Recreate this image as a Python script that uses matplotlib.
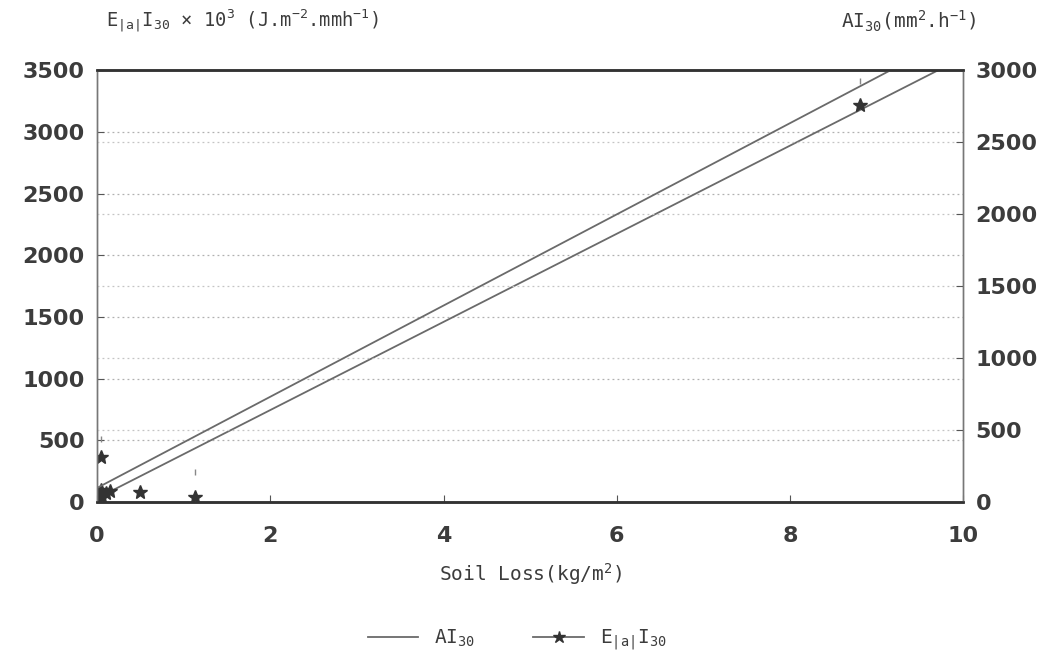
import numpy as np
import matplotlib.pyplot as plt
import matplotlib.lines as mlines

# Soil loss (kg/m2) vs erosivity indices
soil_loss_e = [0.01, 0.02, 0.04, 0.06, 0.10, 0.15, 0.04, 0.50, 1.13, 8.81]
e_i30 = [20, 60, 100, 40, 70, 90, 365, 80, 40, 3216]

soil_loss_ai = [0.04, 1.13, 8.81]
ai30 = [438, 209, 2923]

# fitted straight lines (end points)
e_fit_x = [0.0, 9.71]
e_fit_y = [30, 3500]
ai_fit_x = [0.0, 9.16]
ai_fit_y = [97, 3000]

left_ticks = [0, 500, 1000, 1500, 2000, 2500, 3000, 3500]
right_ticks = [0, 500, 1000, 1500, 2000, 2500, 3000]
x_ticks = [0, 2, 4, 6, 8, 10]

line_col = '#6a6a6a'
text_col = '#3c3c3c'

plt.rcParams['mathtext.fontset'] = 'custom'
plt.rcParams['mathtext.rm'] = 'DejaVu Sans Mono'
plt.rcParams['mathtext.it'] = 'DejaVu Sans Mono'

fig = plt.figure(figsize=(10.55, 6.63), dpi=100)
ax = fig.add_axes([0.092, 0.243, 0.821, 0.651])
ax2 = ax.twinx()

ax.set_xlim(0, 10)
ax.set_ylim(0, 3500)
ax2.set_ylim(0, 3000)

# dotted grid for both scales
for t in left_ticks[1:-1]:
    ax.axhline(t, color='#b0b0b0', lw=0.9, ls=(0, (1.5, 2.5)), zorder=0)
for t in right_ticks[1:-1]:
    ax2.axhline(t, color='#c4c4c4', lw=0.9, ls=(0, (1.5, 2.5)), zorder=0)

# AI30 on right axis, E on left axis
ax2.plot(ai_fit_x, ai_fit_y, color=line_col, lw=1.3)
ax2.plot(soil_loss_ai, ai30, ls='none', marker='|', ms=5, color='#888888')
ax.plot(e_fit_x, e_fit_y, color=line_col, lw=1.3)
ax.plot(soil_loss_e, e_i30, ls='none', marker='*', ms=10, color='#333333')

ax.set_xticks(x_ticks)
ax.set_yticks(left_ticks)
ax2.set_yticks(right_ticks)
ax.set_xticklabels([str(v) for v in x_ticks], fontsize=16, fontweight='bold', color=text_col)
ax.set_yticklabels([str(v) for v in left_ticks], fontsize=16, fontweight='bold', color=text_col)
ax2.set_yticklabels([str(v) for v in right_ticks], fontsize=16, fontweight='bold', color=text_col)
ax.tick_params(axis='y', direction='in', length=5, color='#555555', pad=9)
ax.tick_params(axis='x', direction='in', length=5, color='#555555', pad=17)
ax2.tick_params(direction='in', length=5, color='#555555', pad=9)

for a in (ax, ax2):
    a.spines['top'].set_linewidth(1.8)
    a.spines['top'].set_color('#333333')
    a.spines['bottom'].set_linewidth(1.8)
    a.spines['bottom'].set_color('#333333')
    a.spines['left'].set_linewidth(1.0)
    a.spines['left'].set_color('#777777')
    a.spines['right'].set_linewidth(1.0)
    a.spines['right'].set_color('#777777')

ax.set_xlabel(r'Soil Loss(kg/m$^2$)', family='DejaVu Sans Mono', fontsize=14,
              color=text_col, labelpad=11)

fig.text(0.1, 0.968, r'E$_{|a|}$I$_{30}$ $\times$ 10$^3$ (J.m$^{-2}$.mmh$^{-1}$)',
         family='DejaVu Sans Mono', fontsize=13.5, color=text_col, ha='left', va='center')
fig.text(0.925, 0.968, r'AI$_{30}$(mm$^2$.h$^{-1}$)',
         family='DejaVu Sans Mono', fontsize=14, color=text_col, ha='right', va='center')

h_ai = mlines.Line2D([], [], color=line_col, lw=1.3, label=r'AI$_{30}$')
h_e = mlines.Line2D([], [], color=line_col, lw=1.3, marker='*', ms=9,
                    markerfacecolor='#333333', markeredgecolor='#333333',
                    label=r'E$_{|a|}$I$_{30}$')
leg = fig.legend(handles=[h_ai, h_e], loc='center', bbox_to_anchor=(0.49, 0.035),
                 ncol=2, frameon=False, fontsize=14, handlelength=2.6, columnspacing=3)
for t in leg.get_texts():
    t.set_color(text_col)
    t.set_family('DejaVu Sans Mono')

fig.savefig('out.png', dpi=100, facecolor='white')
